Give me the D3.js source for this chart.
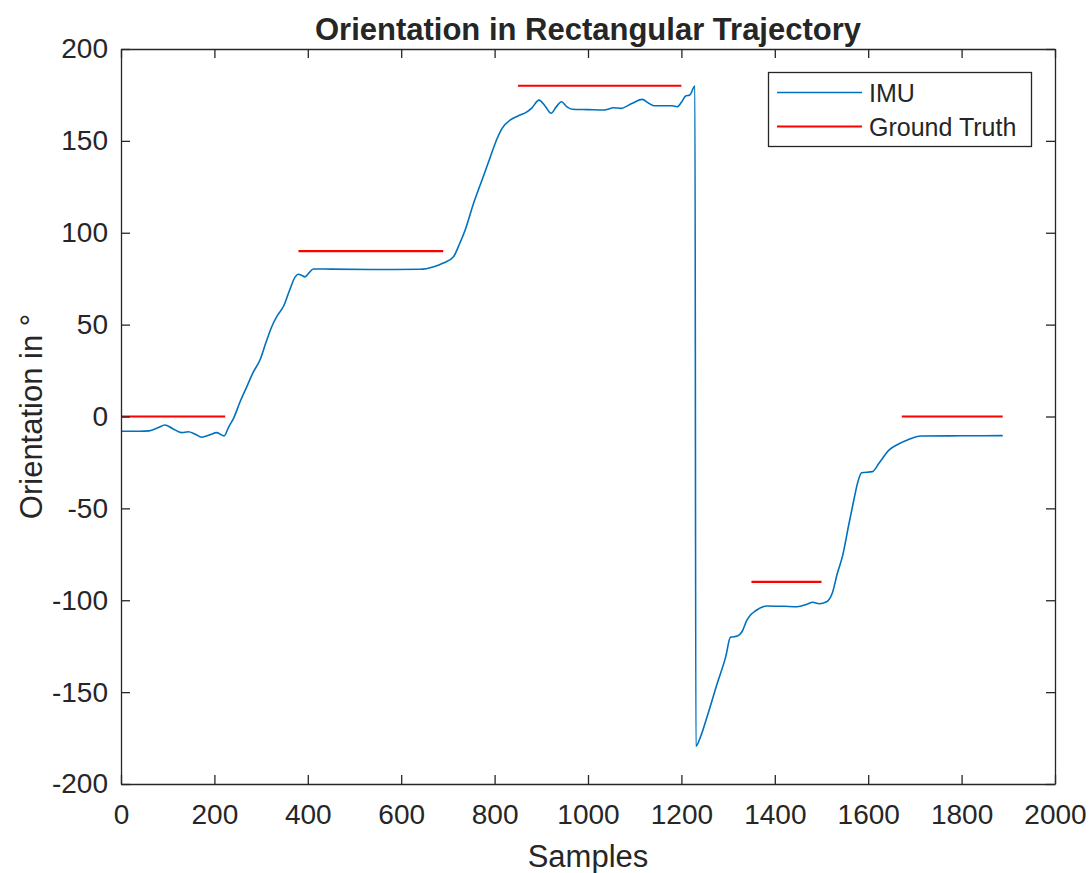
<!DOCTYPE html>
<html>
<head>
<meta charset="utf-8">
<script src="https://cdn.jsdelivr.net/npm/d3@7"></script>
<style>
  body { margin: 0; background: #fff; }
  text { font-family: "Liberation Sans", Arial, sans-serif; fill: #262626; }
</style>
</head>
<body>
<svg id="chart" width="1090" height="873"></svg>
<script>
// IMU orientation samples
var imuX = [0,40,60,80,94,110,130,144,158,173,190,205,215,221,230,241,255,269,283,298,310,323,335,348,360,373,380,387,394,402,412,450,550,641,670,690,712,725,737,755,777,791,805,816,834,850,870,880,895,908,921,932,943,955,966,1000,1034,1055,1070,1095,1116,1130,1141,1180,1191,1200,1209,1218,1229,1231,1241,1255,1277,1295,1305,1320,1330,1340,1348,1359,1384,1420,1448,1470,1481,1495,1511,1523,1534,1545,1559,1570,1577,1586,1609,1623,1645,1665,1684,1713,1800,1888];
var imuY = [-8,-8,-7.8,-6,-4.6,-6.5,-8.8,-8.3,-9.5,-11.3,-10,-8.8,-10,-10.6,-6,-1,8,16,24,31,40,49,55,60,68,76,77.4,76.8,76,78,80.3,80.2,80,80.1,81.5,83.5,87,94,101.5,116,131.4,141.4,151,156.8,161.4,163.5,165.9,168,172.2,169,165,168.5,171.3,168.5,167.2,167,166.8,168,167.7,170.5,172.6,170.5,169.1,169.1,168.6,171,174.4,175,179.9,-179.5,-174.3,-163.4,-145,-130.7,-120.2,-119.5,-117,-111,-108,-105.7,-103.1,-103.3,-103.5,-102,-101.1,-101.9,-100.8,-96.2,-85.3,-76,-58.1,-44.5,-36.4,-30.6,-30,-25.5,-18.2,-15,-12.8,-10.6,-10.5,-10.4];

// ground truth segments
var gtStart = [0, 380, 850, 1350, 1672];
var gtEnd   = [223, 690, 1200, 1500, 1888];
var gtValue = [0, 90, 180, -90, 0];

var xTicks = d3.range(0, 2001, 200);
var yTicks = d3.range(-200, 201, 50);

var svg = d3.select("#chart");
var L = 121, R = 1055, T = 49, B = 784;

var x = d3.scaleLinear().domain([0, 2000]).range([L, R]);
var y = d3.scaleLinear().domain([-200, 200]).range([B, T]);

// data
var imu = imuX.map(function(d, i) { return [d, imuY[i]]; });
svg.append("path")
  .datum(imu)
  .attr("fill", "none")
  .attr("stroke", "#0072BD")
  .attr("stroke-width", 1.6)
  .attr("stroke-linejoin", "round")
  .attr("d", d3.line().x(function(d) { return x(d[0]); }).y(function(d) { return y(d[1]); }).curve(d3.curveMonotoneX));

svg.selectAll(".gt").data(gtValue).enter().append("line")
  .attr("class", "gt")
  .attr("x1", function(d, i) { return x(gtStart[i]); })
  .attr("x2", function(d, i) { return x(gtEnd[i]); })
  .attr("y1", function(d) { return y(d); })
  .attr("y2", function(d) { return y(d); })
  .attr("stroke", "#FF0000")
  .attr("stroke-width", 2.2);

// axes (matlab style, ticks inside, box on)
var axCol = "#262626";
var plain = function(d) { return String(d); };
function styleAxis(g) {
  g.select(".domain").attr("stroke", axCol).attr("stroke-width", 1.3);
  g.selectAll(".tick line").attr("stroke", axCol).attr("stroke-width", 1.3);
  g.selectAll("text").style("font-size", "28px").attr("fill", axCol);
}
svg.append("g").attr("transform", "translate(0," + B + ")")
  .call(d3.axisBottom(x).tickValues(xTicks).tickSizeInner(-9).tickSizeOuter(0).tickPadding(20).tickFormat(plain))
  .call(styleAxis)
  .call(function(g) { g.selectAll("text").attr("dy", "0.71em").attr("y", 20); });
svg.append("g").attr("transform", "translate(0," + T + ")")
  .call(d3.axisTop(x).tickValues(xTicks).tickSizeInner(-9).tickSizeOuter(0).tickFormat(""))
  .call(styleAxis);
svg.append("g").attr("transform", "translate(" + L + ",0)")
  .call(d3.axisLeft(y).tickValues(yTicks).tickSizeInner(-9).tickSizeOuter(0).tickPadding(22).tickFormat(plain))
  .call(styleAxis)
  .call(function(g) { g.selectAll("text").attr("x", -13); });
svg.append("g").attr("transform", "translate(" + R + ",0)")
  .call(d3.axisRight(y).tickValues(yTicks).tickSizeInner(-9).tickSizeOuter(0).tickFormat(""))
  .call(styleAxis);

// titles
svg.append("text").attr("x", (L + R) / 2).attr("y", 40)
  .attr("text-anchor", "middle").style("font-size", "31px").style("font-weight", "bold")
  .attr("fill", "#000").text("Orientation in Rectangular Trajectory");
svg.append("text").attr("x", (L + R) / 2).attr("y", 867)
  .attr("text-anchor", "middle").style("font-size", "31px").text("Samples");
svg.append("text").attr("transform", "translate(42," + ((T + B) / 2) + ") rotate(-90)")
  .attr("text-anchor", "middle").style("font-size", "31px").text("Orientation in °");

// legend
var leg = svg.append("g");
leg.append("rect").attr("x", 768.5).attr("y", 72.5).attr("width", 263).attr("height", 74)
  .attr("fill", "#fff").attr("stroke", axCol).attr("stroke-width", 1.3);
var legItems = [["IMU", "#0072BD", 1.6], ["Ground Truth", "#FF0000", 2.2]];
legItems.forEach(function(it, i) {
  var yy = 92.5 + i * 34;
  leg.append("line").attr("x1", 777).attr("x2", 862).attr("y1", yy).attr("y2", yy)
    .attr("stroke", it[1]).attr("stroke-width", it[2]);
  leg.append("text").attr("x", 869).attr("y", yy + 9).style("font-size", "25px")
    .attr("fill", "#000").text(it[0]);
});
</script>
</body>
</html>
